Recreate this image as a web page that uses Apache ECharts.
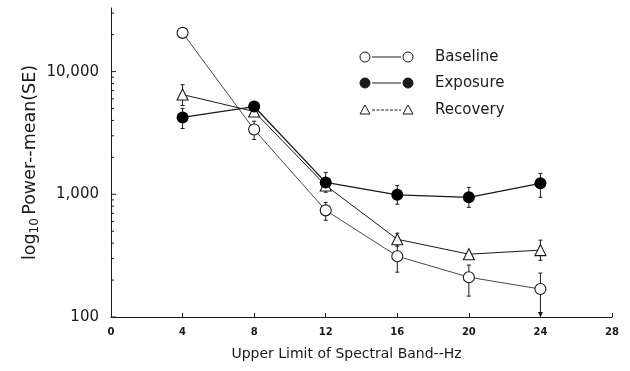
<!DOCTYPE html>
<html>
<head>
<meta charset="utf-8">
<script src="https://cdn.jsdelivr.net/npm/echarts@6/dist/echarts.min.js"></script>
<style>
  html, body { margin: 0; padding: 0; background: #fff; }
  #chart { width: 630px; height: 371px; }
</style>
</head>
<body>
<div id="chart"></div>
<script>
// Upper limit of each spectral band (Hz)
const bands = [4, 8, 12, 16, 20, 24];

// Mean power per band and the mean ± SE range (null = bar hidden by marker)
const baseline     = [20700, 3370, 740, 313, 211, 169];
const baselineLow  = [null, 2800, 615, 232, 148, 100];
const baselineHigh = [null, 3940, 860, 394, 265, 228];

const exposure     = [4230, 5190, 1250, 990, 945, 1230];
const exposureLow  = [3440, null, 1040, 830, 783, 945];
const exposureHigh = [5020, null, 1510, 1180, 1140, 1480];

const recovery     = [6500, 4730, 1180, 430, 325, 351];
const recoveryLow  = [5300, null, null, 378, null, 290];
const recoveryHigh = [7830, null, null, 482, null, 423];

// Axis ticks
const xTickValues = [0, 4, 8, 12, 16, 20, 24, 28];
const yMajorTicks = [100, 1000, 10000];
const yMinorTicks = [200, 300, 400, 500, 600, 700, 800, 900,
                     2000, 3000, 4000, 5000, 6000, 7000, 8000, 9000,
                     20000, 30000];

const FONT = 'DejaVu Sans';
const INK = '#1a1a1a';

function pairs(ys) {
  return bands.map((b, i) => [b, ys[i]]);
}

// Vertical SE bars with small caps; a bar reaching the axis floor ends in an arrow
function errorBars(low, high) {
  const data = [];
  bands.forEach((b, i) => {
    if (low[i] != null && high[i] != null) data.push([b, low[i], high[i]]);
  });
  return {
    type: 'custom',
    z: 1,
    silent: true,
    data: data,
    encode: { x: 0, y: [1, 2] },
    renderItem: function (params, api) {
      const lo = api.coord([api.value(0), api.value(1)]);
      const hi = api.coord([api.value(0), api.value(2)]);
      const w = 2;
      const st = { stroke: INK, lineWidth: 1 };
      const kids = [
        { type: 'line', shape: { x1: lo[0], y1: lo[1], x2: hi[0], y2: hi[1] }, style: st },
        { type: 'line', shape: { x1: hi[0] - w, y1: hi[1], x2: hi[0] + w, y2: hi[1] }, style: st }
      ];
      if (api.value(1) <= 100) {
        kids.push({ type: 'polygon',
          shape: { points: [[lo[0] - 2.5, lo[1] - 5], [lo[0] + 2.5, lo[1] - 5], [lo[0], lo[1]]] },
          style: { fill: INK } });
      } else {
        kids.push({ type: 'line', shape: { x1: lo[0] - w, y1: lo[1], x2: lo[0] + w, y2: lo[1] }, style: st });
      }
      return { type: 'group', children: kids };
    }
  };
}

// Log-axis tick marks drawn inward from the y axis
function yTicks(values, len) {
  return {
    type: 'custom',
    z: 1,
    silent: true,
    clip: false,
    data: values.map(v => [0, v]),
    renderItem: function (params, api) {
      const p = api.coord([0, api.value(1)]);
      return { type: 'line', shape: { x1: p[0], y1: p[1], x2: p[0] + len, y2: p[1] },
               style: { stroke: INK, lineWidth: 1 } };
    }
  };
}

// Legend rows: marker — line — marker, then the series name
const legendRows = [
  { name: 'Baseline', symbol: 'circle', fill: '#fff', dash: null, y: 57 },
  { name: 'Exposure', symbol: 'circle', fill: INK, dash: null, y: 83 },
  { name: 'Recovery', symbol: 'triangle', fill: '#fff', dash: [3, 1.5], y: 110 }
];

function legendMarker(kind, fill, cx, cy) {
  if (kind === 'circle') {
    return { type: 'circle', shape: { cx: cx, cy: cy, r: 5 },
             style: { fill: fill, stroke: INK, lineWidth: 1 } };
  }
  return { type: 'polygon',
           shape: { points: [[cx - 5, cy + 4], [cx + 5, cy + 4], [cx, cy - 5]] },
           style: { fill: fill, stroke: INK, lineWidth: 1 } };
}

const legendGraphics = [];
legendRows.forEach(r => {
  legendGraphics.push(legendMarker(r.symbol, r.fill, 365, r.y));
  legendGraphics.push({ type: 'line', shape: { x1: 372, y1: r.y, x2: 401, y2: r.y },
    style: { stroke: INK, lineWidth: 1, lineDash: r.dash } });
  legendGraphics.push(legendMarker(r.symbol, r.fill, 408, r.y));
  legendGraphics.push({ type: 'text', x: 435, y: r.y,
    style: { text: r.name, font: '15px "' + FONT + '"', fill: INK, verticalAlign: 'middle' } });
});

const chart = echarts.init(document.getElementById('chart'), null, { renderer: 'canvas' });

chart.setOption({
  backgroundColor: '#fff',
  animation: false,
  grid: { left: 111, right: 18, top: 8, bottom: 54 },
  xAxis: {
    type: 'value',
    min: 0, max: 28, interval: 4,
    name: 'Upper Limit of Spectral Band--Hz',
    nameLocation: 'middle',
    nameGap: 30,
    nameTextStyle: { fontFamily: FONT, fontSize: 14, color: INK, padding: [0, 30, 0, 0] },
    axisLine: { lineStyle: { color: INK, width: 1 } },
    axisTick: { inside: true, length: 4, lineStyle: { color: INK } },
    axisLabel: { fontFamily: FONT, fontSize: 10, fontWeight: 'bold', color: INK, margin: 10 },
    splitLine: { show: false }
  },
  yAxis: {
    type: 'log',
    logBase: 10,
    min: 100, max: 33000,
    name: '{n|log}{s|10} {n|Power--mean(SE)}',
    nameLocation: 'middle',
    nameGap: 70,
    nameMoveOverlap: false,
    nameRotate: 90,
    nameTextStyle: {
      rich: {
        n: { fontFamily: FONT, fontSize: 17.5, color: INK },
        s: { fontFamily: FONT, fontSize: 12, color: INK, verticalAlign: 'bottom', padding: [9, 0, 0, 0] }
      }
    },
    axisLine: { lineStyle: { color: INK, width: 1 } },
    axisTick: { show: false },
    axisLabel: {
      fontFamily: FONT, fontSize: 15, color: INK, margin: 12,
      formatter: function (v) {
        const r = Math.round(v);
        return yMajorTicks.indexOf(r) >= 0 ? r.toLocaleString('en-US') : '';
      }
    },
    splitLine: { show: false },
    minorTick: { show: false }
  },
  graphic: legendGraphics,
  series: [
    yTicks(yMajorTicks, 5),
    yTicks(yMinorTicks, 3),
    errorBars(baselineLow, baselineHigh),
    errorBars(exposureLow, exposureHigh),
    errorBars(recoveryLow, recoveryHigh),
    {
      name: 'Recovery', type: 'line', z: 3,
      data: pairs(recovery),
      symbol: 'triangle', symbolSize: 11,
      itemStyle: { color: '#fff', borderColor: INK, borderWidth: 1.1 },
      lineStyle: { color: INK, width: 1 }
    },
    {
      name: 'Baseline', type: 'line', z: 4,
      data: pairs(baseline),
      symbol: 'circle', symbolSize: 11,
      itemStyle: { color: '#fff', borderColor: INK, borderWidth: 1.1 },
      lineStyle: { color: INK, width: 0.8 }
    },
    {
      name: 'Exposure', type: 'line', z: 5,
      data: pairs(exposure),
      symbol: 'circle', symbolSize: 12,
      itemStyle: { color: '#000', borderColor: '#000', borderWidth: 0 },
      lineStyle: { color: INK, width: 1.3 }
    }
  ]
});
</script>
</body>
</html>
